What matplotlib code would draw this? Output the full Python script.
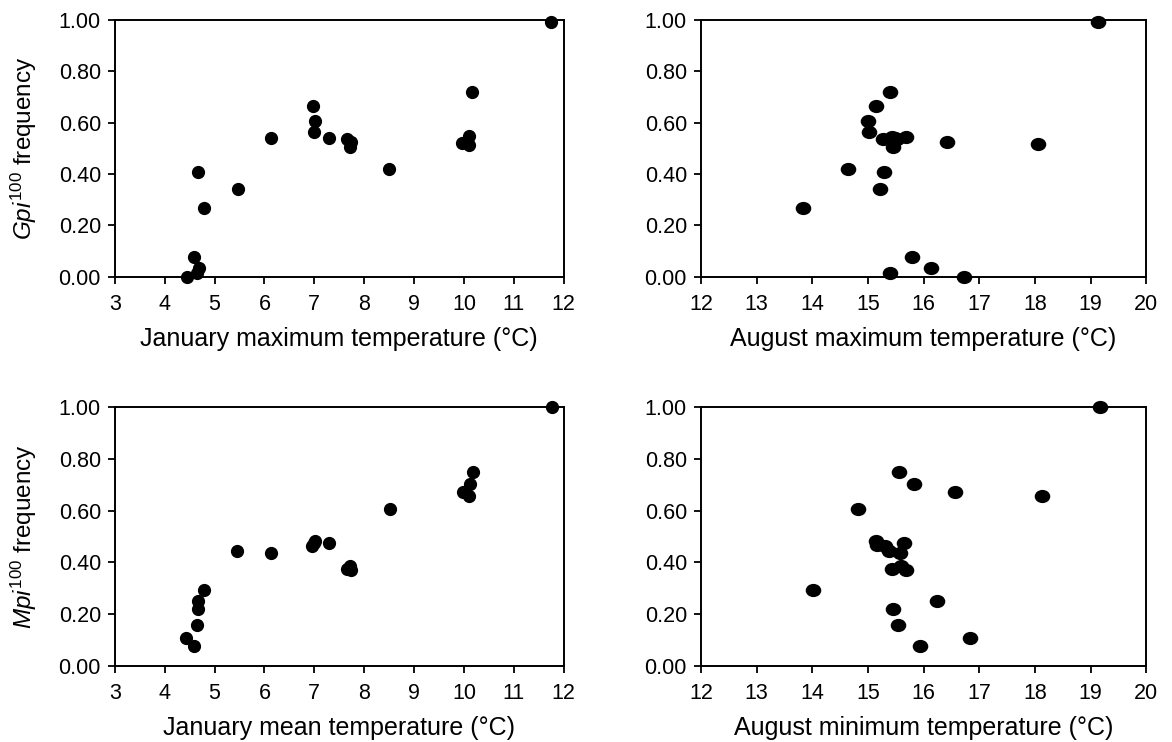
import matplotlib
matplotlib.use("Agg")
import matplotlib.pyplot as plt
from matplotlib.markers import MarkerStyle
from matplotlib.transforms import Affine2D

plt.rcParams['font.family'] = ['Liberation Sans', 'DejaVu Sans']
plt.rcParams['mathtext.fontset'] = 'custom'
plt.rcParams['mathtext.rm'] = 'Liberation Sans'
plt.rcParams['mathtext.it'] = 'Liberation Sans:italic'

# Gpi100 frequency vs January maximum temperature
jan_max = [11.75, 10.16, 6.97, 7.01, 7.00, 6.13, 7.29, 7.66, 7.74, 7.71, 8.50,
           9.97, 10.11, 10.10, 4.67, 5.46, 4.79, 4.58, 4.69, 4.65, 4.44]
gpi_jan = [0.99, 0.72, 0.664, 0.606, 0.563, 0.541, 0.540, 0.536, 0.526, 0.504, 0.421,
           0.522, 0.546, 0.514, 0.407, 0.343, 0.268, 0.079, 0.036, 0.017, 0.001]

# Gpi100 frequency vs August maximum temperature
aug_max = [19.13, 15.40, 15.14, 15.00, 15.02, 15.28, 15.43, 15.52, 15.68, 15.45, 16.43,
           18.05, 14.65, 15.29, 15.22, 13.84, 15.79, 16.13, 15.39, 16.73, 15.48]
gpi_aug = [0.99, 0.72, 0.664, 0.606, 0.563, 0.535, 0.543, 0.535, 0.545, 0.504, 0.523,
           0.515, 0.421, 0.407, 0.343, 0.268, 0.079, 0.036, 0.017, 0.001, 0.540]

# Mpi100 frequency vs January mean temperature
jan_mean = [11.77, 10.18, 10.12, 9.98, 10.11, 8.51, 7.01, 6.96, 7.29, 5.45, 6.13,
            7.72, 7.66, 7.74, 4.78, 4.67, 4.66, 4.64, 4.42, 4.58, 6.99]
mpi_jan = [1.00, 0.749, 0.704, 0.672, 0.656, 0.608, 0.483, 0.462, 0.474, 0.445, 0.435,
           0.388, 0.374, 0.369, 0.295, 0.253, 0.222, 0.160, 0.109, 0.079, 0.475]

# Mpi100 frequency vs August minimum temperature
aug_min = [19.17, 15.56, 15.83, 16.56, 18.13, 14.83, 15.15, 15.17, 15.30, 15.38, 15.57,
           15.65, 15.60, 15.43, 15.68, 14.02, 16.25, 15.45, 15.55, 16.84, 15.93]
mpi_aug = [1.00, 0.749, 0.704, 0.672, 0.656, 0.608, 0.481, 0.468, 0.464, 0.445, 0.435,
           0.474, 0.388, 0.374, 0.369, 0.295, 0.253, 0.222, 0.160, 0.110, 0.079]

jan_ticks = list(range(3, 13))
aug_ticks = list(range(12, 21))
y_ticks = [0.0, 0.2, 0.4, 0.6, 0.8, 1.0]

fig = plt.figure(figsize=(11.72, 7.42), dpi=100)

boxes = [
    [0.098, 0.6267, 0.383, 0.347],
    [0.598, 0.6267, 0.380, 0.347],
    [0.098, 0.1024, 0.383, 0.349],
    [0.598, 0.1024, 0.380, 0.349],
]

panels = [
    (jan_max, gpi_jan, jan_ticks, "January maximum temperature (°C)",
     r"$\mathit{Gpi}^{\mathrm{100}}$ frequency", False),
    (aug_max, gpi_aug, aug_ticks, "August maximum temperature (°C)", None, True),
    (jan_mean, mpi_jan, jan_ticks, "January mean temperature (°C)",
     r"$\mathit{Mpi}^{\mathrm{100}}$ frequency", False),
    (aug_min, mpi_aug, aug_ticks, "August minimum temperature (°C)", None, True),
]

round_dot = MarkerStyle('o')
wide_dot = MarkerStyle('o', transform=Affine2D().scale(1.2, 1.0))

for box, (xs, ys, xt, xlab, ylab, wide) in zip(boxes, panels):
    ax = fig.add_axes(box)
    ax.plot(xs, ys, linestyle='none', marker=wide_dot if wide else round_dot,
            markersize=8.5, color='black', clip_on=False, zorder=3)
    ax.set_xlim(xt[0], xt[-1])
    ax.set_ylim(0, 1)
    ax.set_xticks(xt)
    ax.set_yticks(y_ticks)
    ax.set_yticklabels([f"{v:.2f}" for v in y_ticks])
    ax.tick_params(direction='out', length=5, width=1.3, labelsize=15.5,
                   color='black')
    ax.tick_params(axis='x', pad=7)
    ax.tick_params(axis='y', pad=5)
    for s in ax.spines.values():
        s.set_linewidth(1.4)
    ax.set_xlabel(xlab, fontsize=18, labelpad=9)
    if ylab:
        ax.set_ylabel(ylab, fontsize=17.5, labelpad=14)

fig.savefig("out.png", dpi=100)
